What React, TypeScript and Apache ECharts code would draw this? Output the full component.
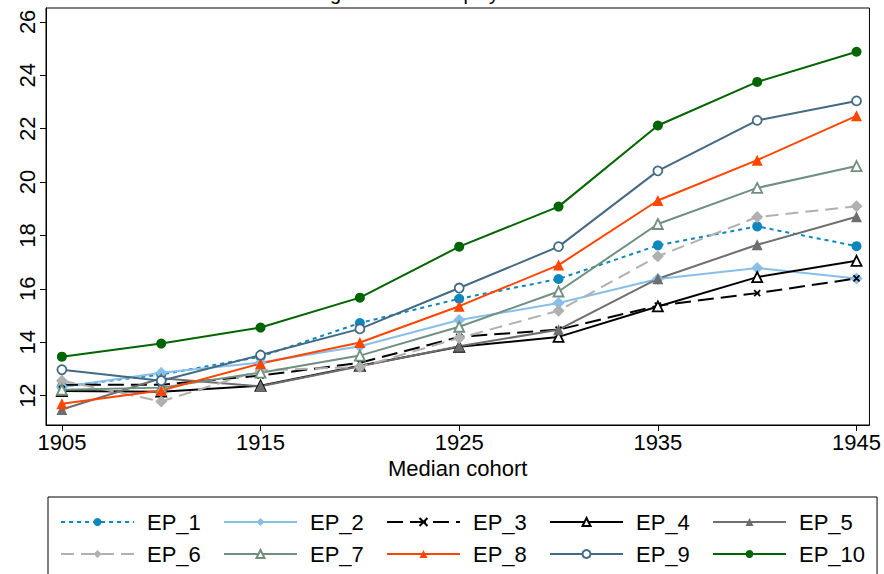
import React, { useEffect, useRef } from "react";
import * as echarts from "echarts";

const years = [1905, 1910, 1915, 1920, 1925, 1930, 1935, 1940, 1945];
const xTicks = [1905, 1915, 1925, 1935, 1945];
const yTicks = [12, 14, 16, 18, 20, 22, 24, 26];

const EP_1 = [12.34, 12.79, 13.46, 14.72, 15.63, 16.37, 17.63, 18.34, 17.6];
const EP_2 = [12.32, 12.86, 13.24, 13.85, 14.83, 15.47, 16.37, 16.78, 16.39];
const EP_3 = [12.41, 12.41, 12.75, 13.23, 14.2, 14.47, 15.37, 15.84, 16.39];
const EP_4 = [12.17, 12.15, 12.37, 13.12, 13.83, 14.2, 15.34, 16.44, 17.05];
const EP_5 = [11.48, 12.65, 12.35, 13.1, 13.85, 14.47, 16.38, 17.65, 18.7];
const EP_6 = [12.56, 11.78, 12.95, 13.07, 14.16, 15.18, 17.22, 18.69, 19.09];
const EP_7 = [12.22, 12.3, 12.86, 13.5, 14.58, 15.9, 18.43, 19.78, 20.6];
const EP_8 = [11.7, 12.19, 13.2, 13.99, 15.35, 16.89, 19.31, 20.82, 22.48];
const EP_9 = [12.97, 12.56, 13.52, 14.5, 16.03, 17.58, 20.42, 22.31, 23.04];
const EP_10 = [13.46, 13.95, 14.55, 15.67, 17.58, 19.08, 22.12, 23.75, 24.88];

const FONT = '"Liberation Sans", Arial, sans-serif';

type Spec = {
  name: string;
  values: number[];
  color: string;
  symbol: string;
  size: number;
  hollow?: boolean;
  dash?: number[];
};

const specs: Spec[] = [
  { name: "EP_1", values: EP_1, color: "#0d87bd", symbol: "circle", size: 10, dash: [4, 4] },
  { name: "EP_2", values: EP_2, color: "#87bfe8", symbol: "diamond", size: 12 },
  { name: "EP_3", values: EP_3, color: "#000000", symbol: "path://M0,0L10,10M10,0L0,10", size: 6, dash: [16, 7] },
  { name: "EP_4", values: EP_4, color: "#000000", symbol: "triangle", size: 10, hollow: true },
  { name: "EP_5", values: EP_5, color: "#6e6e6e", symbol: "triangle", size: 11 },
  { name: "EP_6", values: EP_6, color: "#b0b0b0", symbol: "diamond", size: 12, dash: [13, 7] },
  { name: "EP_7", values: EP_7, color: "#6f8f7f", symbol: "triangle", size: 10, hollow: true },
  { name: "EP_8", values: EP_8, color: "#ff4500", symbol: "triangle", size: 11 },
  { name: "EP_9", values: EP_9, color: "#436983", symbol: "circle", size: 9, hollow: true },
  { name: "EP_10", values: EP_10, color: "#006400", symbol: "circle", size: 10 },
];

export default function App() {
  const ref = useRef<HTMLDivElement>(null);
  useEffect(() => {
    if (!ref.current) return;
    const chart = echarts.init(ref.current, null, { renderer: "svg" });
    const series = specs.map((s) => ({
      name: s.name,
      type: "line",
      data: years.map((y, i) => [y, s.values[i]]),
      symbol: s.symbol,
      symbolSize: s.size,
      showSymbol: true,
      lineStyle: {
        color: s.color,
        width: 2,
        type: s.dash ? s.dash : "solid",
      },
      itemStyle: {
        color: s.hollow ? "#ffffff" : s.color,
        borderColor: s.color,
        borderWidth: s.hollow || s.name === "EP_3" ? 1.8 : 0,
        opacity: 1,
      },
      emphasis: { disabled: true },
    }));
    chart.setOption({
      animation: false,
      backgroundColor: "#ffffff",
      textStyle: { fontFamily: FONT },
      graphic: [
        {
          type: "text",
          left: 290,
          top: -17,
          style: {
            text: "Intergenerational equity",
            font: `20px ${FONT}`,
            fill: "#000",
          },
        },
      ],
      grid: {
        left: 46,
        right: 13,
        top: 8,
        bottom: 149,
        show: true,
        borderColor: "#000",
        borderWidth: 1,
        backgroundColor: "#fff",
      },
      xAxis: {
        type: "value",
        min: 1904.2,
        max: 1945.65,
        name: "Median cohort",
        nameLocation: "middle",
        nameGap: 29,
        nameTextStyle: { fontFamily: FONT, fontSize: 22, color: "#000" },
        axisLine: { lineStyle: { color: "#000", width: 1 } },
        axisTick: { customValues: xTicks, length: 6, lineStyle: { color: "#000" } },
        axisLabel: {
          customValues: xTicks,
          formatter: (v: number) => String(v),
          fontFamily: FONT,
          fontSize: 22,
          color: "#000",
          margin: 6,
        },
        splitLine: { show: false },
      },
      yAxis: {
        type: "value",
        min: 10.9,
        max: 26.52,
        axisLine: { show: true, lineStyle: { color: "#000", width: 1 } },
        axisTick: { show: true, customValues: yTicks, length: 6, lineStyle: { color: "#000" } },
        axisLabel: {
          customValues: yTicks,
          formatter: (v: number) => String(v),
          rotate: 90,
          fontFamily: FONT,
          fontSize: 22,
          color: "#000",
          margin: 8,
        },
        splitLine: { show: false },
      },
      legend: {
        left: 48,
        top: 497,
        width: 806,
        orient: "horizontal",
        padding: [14, 12, 14, 12],
        itemGap: 10,
        itemWidth: 73,
        itemHeight: 10,
        borderColor: "#000",
        borderWidth: 1,
        data: specs.map((s) => s.name),
        textStyle: {
          fontFamily: FONT,
          fontSize: 22,
          color: "#000",
          width: 66,
          lineHeight: 20,
          padding: [0, 0, 0, 8],
        },
      },
      series,
    });
    return () => chart.dispose();
  }, []);
  return (
    <div
      ref={ref}
      style={{ position: "absolute", left: 0, top: 0, width: 884, height: 574 }}
    />
  );
}
